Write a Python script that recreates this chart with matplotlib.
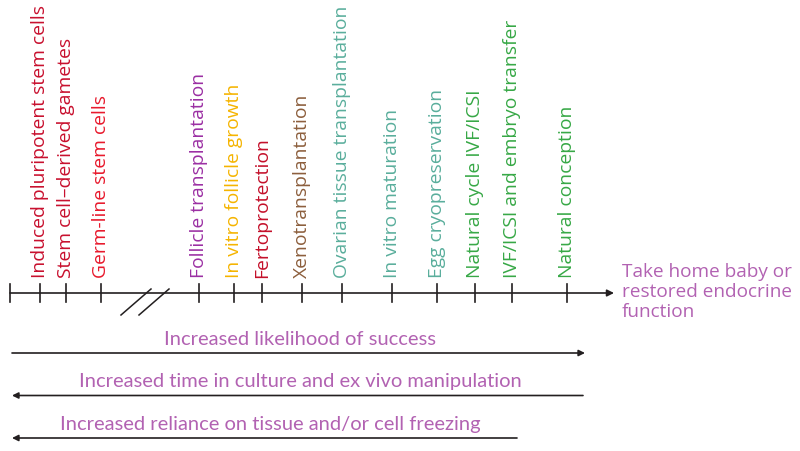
import matplotlib
matplotlib.use("Agg")
import matplotlib.pyplot as plt

# ---- data ----
labels = [
    "Induced pluripotent stem cells",
    "Stem cell\u2013derived gametes",
    "Germ-line stem cells",
    "Follicle transplantation",
    "In vitro follicle growth",
    "Fertoprotection",
    "Xenotransplantation",
    "Ovarian tissue transplantation",
    "In vitro maturation",
    "Egg cryopreservation",
    "Natural cycle IVF/ICSI",
    "IVF/ICSI and embryo transfer",
    "Natural conception",
]
positions = [40, 66, 101, 199, 234, 262, 302, 342, 392, 437, 475, 512, 567]
label_colors = [
    "#c8102e", "#c8102e", "#e8192c", "#9b2fa3", "#f5b400", "#c4102a",
    "#8c5e3c", "#5aae9c", "#5aae9c", "#5aae9c", "#37a846", "#37a846", "#37a846",
]
end_label = "Take home baby or\nrestored endocrine\nfunction"
trend_texts = [
    "Increased likelihood of success",
    "Increased time in culture and ex vivo manipulation",
    "Increased reliance on tissue and/or cell freezing",
]
trend_dirs = ["right", "left", "left"]
trend_spans = [(12, 585), (12, 583), (12, 517)]
text_color = "#b262b2"

# ---- figure ----
fig = plt.figure(figsize=(8, 4.51), dpi=100)
ax = fig.add_axes([0, 0, 1, 1])
ax.set_xlim(0, 800)
ax.set_ylim(451, 0)
ax.axis("off")

font = ["Open Sans", "DejaVu Sans"]
axis_y = 293
line_c = "#231f20"

# timeline axis with arrow
ax.annotate("", xy=(614, axis_y), xytext=(10, axis_y),
            arrowprops=dict(arrowstyle="-|>", color=line_c, lw=1.2,
                            mutation_scale=10, shrinkA=0, shrinkB=0))
for x in [10] + positions:
    ax.plot([x, x], [axis_y - 9, axis_y + 9], color=line_c, lw=1.2)

# break marks
for dx in [0, 18]:
    ax.plot([121 + dx, 151 + dx], [315, 289], color=line_c, lw=1.1)

for x, lab, c in zip(positions, labels, label_colors):
    ax.text(x, 278, lab, rotation=90, ha="center", va="bottom",
            color=c, fontsize=13.9, family=font)

ax.text(622, 292, end_label, ha="left", va="center", color=text_color,
        fontsize=13.7, family=font, linespacing=1.13)

narrow = ["Lato", "DejaVu Sans"]
for i, (t, d, (x0, x1)) in enumerate(zip(trend_texts, trend_dirs, trend_spans)):
    y = 353 + i * 42.5
    if d == "right":
        ax.annotate("", xy=(x1, y), xytext=(x0, y),
                    arrowprops=dict(arrowstyle="-|>", color=line_c, lw=1.2,
                                    mutation_scale=9, shrinkA=0, shrinkB=0))
    else:
        ax.annotate("", xy=(x0, y), xytext=(x1, y),
                    arrowprops=dict(arrowstyle="-|>", color=line_c, lw=1.2,
                                    mutation_scale=9, shrinkA=0, shrinkB=0))
    ax.text([300, 300, 270][i], y - 5, t, ha="center", va="bottom",
            color=text_color, fontsize=14.5, family=narrow)

fig.savefig("out.png", dpi=100)
